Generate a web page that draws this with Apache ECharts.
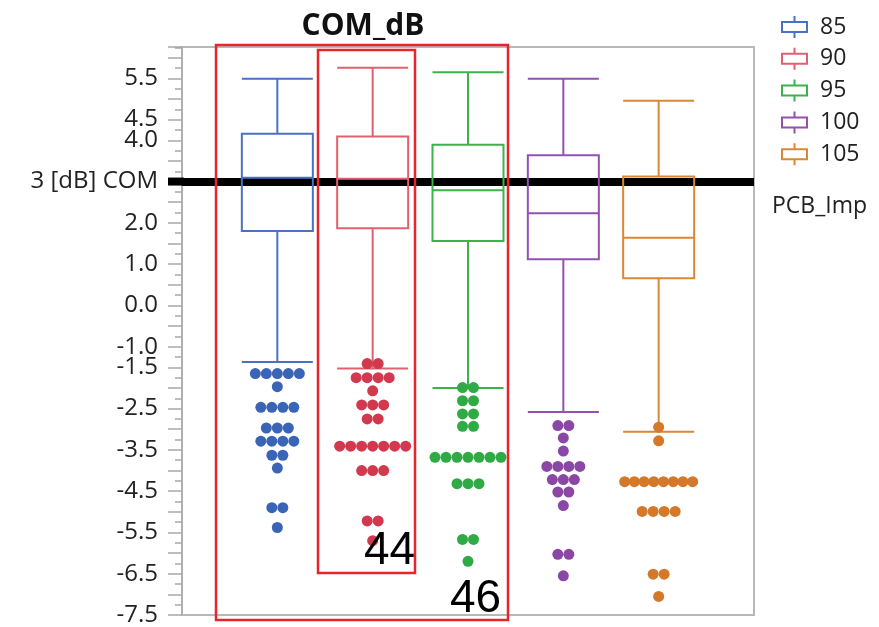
<!DOCTYPE html>
<html><head><meta charset="utf-8">
<script src="https://cdn.jsdelivr.net/npm/echarts@6/dist/echarts.min.js"></script>
<style>html,body{margin:0;padding:0;background:#fff}#c{width:879px;height:627px}</style>
</head><body><div id="c"></div>
<script>
// ---- data ----
const categories = ['85', '90', '95', '100', '105'];
const groupPos = [1, 2, 3, 4, 5];
// [whisker low, Q1, median, Q3, whisker high]
const box85 = [-1.37, 1.80, 3.09, 4.16, 5.49];
const box90 = [-1.53, 1.87, 3.07, 4.09, 5.76];
const box95 = [-2.00, 1.56, 2.79, 3.89, 5.65];
const box100 = [-2.58, 1.12, 2.23, 3.64, 5.49];
const box105 = [-3.06, 0.66, 1.64, 3.12, 4.96];
// outlier points (one value per dot)
const out85 = [-1.65, -1.65, -1.65, -1.65, -1.65, -1.97, -2.47, -2.47, -2.47, -2.47,
  -2.97, -2.97, -2.97, -3.29, -3.29, -3.29, -3.29, -3.63, -3.63, -3.94, -4.90, -4.90, -5.38];
const out90 = [-1.41, -1.41, -1.75, -1.75, -1.75, -1.75, -2.07, -2.41, -2.41, -2.41,
  -2.75, -2.75, -3.41, -3.41, -3.41, -3.41, -3.41, -3.41, -3.41, -4.00, -4.00, -4.00,
  -5.22, -5.22, -5.70];
const out95 = [-1.99, -1.99, -2.31, -2.31, -2.63, -2.63, -2.93, -2.93,
  -3.68, -3.68, -3.68, -3.68, -3.68, -3.68, -3.68, -4.32, -4.32, -4.32, -5.67, -5.67, -6.20];
const out100 = [-2.91, -2.91, -3.21, -3.53, -3.90, -3.90, -3.90, -3.90, -4.22, -4.22, -4.22,
  -4.52, -4.52, -4.85, -6.03, -6.03, -6.55];
const out105 = [-2.95, -3.28, -4.27, -4.27, -4.27, -4.27, -4.27, -4.27, -4.27, -4.27,
  -4.99, -4.99, -4.99, -4.99, -6.51, -6.51, -7.05];
const refLine = 3;
const yTickValues = [5.5, 4.5, 4.0, 3.0, 2.0, 1.0, 0.0, -1.0, -1.5, -2.5, -3.5, -4.5, -5.5, -6.5, -7.5];
const yTickLabels = ['5.5', '4.5', '4.0', '3 [dB] COM', '2.0', '1.0', '0.0', '-1.0', '-1.5', '-2.5', '-3.5', '-4.5', '-5.5', '-6.5', '-7.5'];
const annotations = ['44', '46'];

// ---- styles ----
const boxes = [box85, box90, box95, box100, box105];
const outs = [out85, out90, out95, out100, out105];
const lineColors = ['#4a72c2', '#e0606f', '#3cb24c', '#9452b0', '#d98836'];
const dotColors = ['#3a64b6', '#d2384e', '#2faa44', '#8b47a6', '#d4782a'];
const FONT = '"Open Sans", "Noto Sans", sans-serif';
const GRID_LEFT = 182;

function swarm(values, pos) {
  const res = [];
  let i = 0;
  while (i < values.length) {
    let j = i;
    while (j < values.length && values[j] === values[i]) j++;
    const n = j - i;
    const sp = n > 7 ? 68 / (n - 1) : 11;
    for (let k = 0; k < n; k++) {
      res.push({ value: [pos, values[i]], symbolOffset: [(k - (n - 1) / 2) * sp, 0] });
    }
    i = j;
  }
  return res;
}

const chart = echarts.init(document.getElementById('c'), null, { renderer: 'canvas' });

const xAxes = categories.map(() => ({
  type: 'value', min: 0, max: 6, show: false, gridIndex: 0
}));

const series = [];
categories.forEach((name, g) => {
  series.push({
    type: 'boxplot', name: name, xAxisIndex: g, yAxisIndex: 0, z: 3,
    data: [[groupPos[g]].concat(boxes[g])],
    boxWidth: [71, 71],
    itemStyle: { color: 'rgba(0,0,0,0)', borderColor: lineColors[g], borderWidth: 2 },
    emphasis: { disabled: true },
    silent: true
  });
});
categories.forEach((name, g) => {
  series.push({
    type: 'scatter', name: name + ' outliers', xAxisIndex: 0, yAxisIndex: 0, z: 4,
    symbol: 'circle', symbolSize: 11,
    itemStyle: { color: dotColors[g], opacity: 1 },
    data: swarm(outs[g], groupPos[g]),
    silent: true
  });
});
series[0].markLine = {
  z: 1, silent: true, symbol: 'none', animation: false,
  label: { show: false },
  lineStyle: { color: '#000', width: 8, type: 'solid' },
  data: [{ yAxis: refLine }]
};

const baseGraphic = [
  { id: 'bigRect', type: 'rect', z: 100, shape: { x: 216, y: 45, width: 292, height: 575 },
    style: { fill: 'none', stroke: '#e8242c', lineWidth: 2.5 } },
  { id: 'smallRect', type: 'rect', z: 100, shape: { x: 318, y: 50, width: 97, height: 523 },
    style: { fill: 'none', stroke: '#e8242c', lineWidth: 2.5 } },
  { id: 't44', type: 'text', z: 101, left: 364, top: 528,
    style: { text: annotations[0], font: '46px "Liberation Sans", sans-serif', fill: '#000' } },
  { id: 't46', type: 'text', z: 101, left: 450, top: 576,
    style: { text: annotations[1], font: '46px "Liberation Sans", sans-serif', fill: '#000' } }
];

const option = {
  animation: false,
  backgroundColor: '#fff',
  title: [
    { text: 'COM_dB', left: 358, top: 6, textAlign: 'center',
      textStyle: { fontFamily: FONT, fontSize: 30, fontWeight: 'bold', color: '#111' } },
    { text: 'PCB_Imp', left: 767, top: 190,
      textStyle: { fontFamily: FONT, fontSize: 23, fontWeight: 'normal', color: '#222' } }
  ],
  legend: {
    data: categories, orient: 'vertical', left: 776, top: 10,
    itemWidth: 25, itemHeight: 22, itemGap: 7.8,
    icon: 'path://M12.5,0L12.5,6M0,6L25,6L25,16L0,16ZM12.5,16L12.5,22',
    itemStyle: { color: '#fff', borderWidth: 2 },
    textStyle: { fontFamily: FONT, fontSize: 23, color: '#222', lineHeight: 22, padding: [0, 0, 0, 8] },
    selectedMode: false
  },
  grid: { left: GRID_LEFT, right: 125, top: 47, bottom: 9, show: true, borderColor: '#b8b8b8', borderWidth: 2, containLabel: false },
  xAxis: xAxes,
  yAxis: {
    type: 'value', min: -7.5, max: 6.26, interval: 0.5,
    axisLine: { show: true, lineStyle: { color: '#b0b0b0', width: 2 } },
    axisTick: { show: true, length: 14, lineStyle: { color: '#a8a8a8', width: 1.5 } },
    minorTick: { show: true, splitNumber: 2, length: 7, lineStyle: { color: '#a8a8a8', width: 1.5 } },
    splitLine: { show: false },
    axisLabel: {
      margin: 24, fontFamily: FONT, fontSize: 24, color: '#222',
      showMaxLabel: false,
      formatter: function (v) {
        for (let i = 0; i < yTickValues.length; i++) {
          if (Math.abs(v - yTickValues[i]) < 1e-6) return yTickLabels[i];
        }
        return '';
      }
    }
  },
  graphic: baseGraphic,
  series: series
};
chart.setOption(option);

// extend the reference line over the tick marks, left of the axis
const refY = chart.convertToPixel({ yAxisIndex: 0 }, refLine);
chart.setOption({
  graphic: baseGraphic.concat([{
    id: 'refExt', type: 'line', z: 50,
    shape: { x1: GRID_LEFT - 14, y1: refY, x2: GRID_LEFT + 2, y2: refY },
    style: { stroke: '#000', lineWidth: 8 }
  }])
});
</script>
</body></html>
